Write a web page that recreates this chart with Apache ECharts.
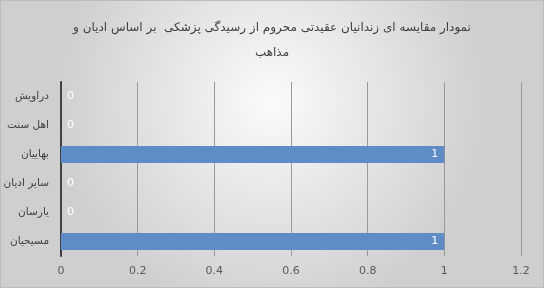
<!DOCTYPE html>
<html><head><meta charset="utf-8">
<script src="https://cdn.jsdelivr.net/npm/echarts@6/dist/echarts.min.js"></script>
<style>html,body{margin:0;padding:0;}#c{width:544px;height:288px;}</style>
</head><body><div id="c"></div>
<script>
var titleText = "نمودار مقایسه ای زندانیان عقیدتی محروم از رسیدگی پزشکی  بر اساس ادیان و\nمذاهب";
var categories = ["دراویش", "اهل سنت", "بهاییان", "سایر ادیان", "یارسان", "مسیحیان"];
var values = [0, 0, 1, 0, 0, 1];
var xTicks = [0, 0.2, 0.4, 0.6, 0.8, 1, 1.2];

var chart = echarts.init(document.getElementById('c'));
chart.setOption({
  backgroundColor: new echarts.graphic.RadialGradient(0.5, 0.35, 0.75, [
    {offset: 0, color: '#fbfbfb'},
    {offset: 1, color: '#cfcfcf'}
  ]),
  animation: false,
  title: {
    text: titleText, left: 'center', top: 10,
    textStyle: {fontFamily: 'DejaVu Sans', fontSize: 12, fontWeight: 'normal', color: '#404040', lineHeight: 25, align: 'center'}
  },
  graphic: [{type: 'rect', shape: {x: 0.5, y: 0.5, width: 543, height: 287}, style: {fill: 'none', stroke: '#bcbcbc', lineWidth: 1}, silent: true}],
  grid: {left: 61, right: 23, top: 82, bottom: 32, containLabel: false},
  xAxis: {
    type: 'value', min: xTicks[0], max: xTicks[xTicks.length - 1], interval: 0.2,
    axisLine: {show: false}, axisTick: {show: false},
    axisLabel: {color: '#595959', fontSize: 11, fontFamily: 'DejaVu Sans', margin: 10},
    splitLine: {show: true, lineStyle: {color: '#9a9a9a', width: 1}}
  },
  yAxis: {
    type: 'category', data: categories, inverse: true,
    axisLine: {show: true, lineStyle: {color: '#404040', width: 2}},
    axisTick: {show: false},
    axisLabel: {color: '#404040', fontSize: 10.5, fontFamily: 'DejaVu Sans', margin: 12}
  },
  series: [{
    type: 'bar', barWidth: '58%',
    itemStyle: {color: '#5f8cc6'},
    data: values.map(function (v) {
      return {value: v, label: {show: true, position: v > 0 ? 'insideRight' : 'right', color: '#ffffff', fontSize: 11, fontFamily: 'DejaVu Sans', distance: 6}};
    })
  }]
});
</script></body></html>
